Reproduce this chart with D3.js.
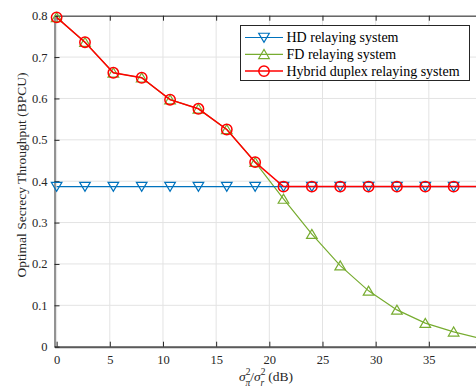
<!DOCTYPE html>
<html><head><meta charset="utf-8">
<script src="https://cdn.jsdelivr.net/npm/d3@7"></script>
<style>body{margin:0;background:#fff}svg{display:block}</style>
</head><body>
<svg id="c" width="476" height="392"></svg>
<script>
const xVals = [0, 2.667, 5.333, 8, 10.667, 13.333, 16, 18.667, 21.333, 24, 26.667, 29.333, 32, 34.667, 37.333, 40];
const hdVals = [0.387,0.387,0.387,0.387,0.387,0.387,0.387,0.387,0.387,0.387,0.387,0.387,0.387,0.387,0.387,0.387];
const fdVals = [0.796,0.736,0.662,0.650,0.597,0.575,0.525,0.446,0.357,0.272,0.196,0.135,0.089,0.057,0.036,0.019];
const hybVals = [0.796,0.736,0.662,0.650,0.597,0.575,0.525,0.446,0.387,0.387,0.387,0.387,0.387,0.387,0.387,0.387];
const xTicks = [0,5,10,15,20,25,30,35];
const yTicks = [0,0.1,0.2,0.3,0.4,0.5,0.6,0.7,0.8];
const seriesNames = ["HD relaying system","FD relaying system","Hybrid duplex relaying system"];
const seriesColors = ["#0072BD","#77AC30","#FF0000"];

const svg = d3.select("#c");
const L = 54.5, R = 482, T = 15.7, B = 346.7;
const x = d3.scaleLinear().domain([-0.2, 40]).range([L, R]);
const y = d3.scaleLinear().domain([0, 0.8]).range([B, T]);
const font = "'Liberation Serif','Times New Roman',serif";

// grid
const g = svg.append("g");
g.selectAll(".gx").data(xTicks).enter().append("line")
  .attr("x1", d=>x(d)).attr("x2", d=>x(d)).attr("y1", T).attr("y2", B)
  .attr("stroke", "#e3e3e3").attr("stroke-width", 1);
g.selectAll(".gy").data(yTicks).enter().append("line")
  .attr("x1", L).attr("x2", R).attr("y1", d=>y(d)).attr("y2", d=>y(d))
  .attr("stroke", "#e3e3e3").attr("stroke-width", 1);

// axes
const xAxis = d3.axisBottom(x).tickValues(xTicks).tickFormat(d3.format("d")).tickSizeInner(-5).tickSizeOuter(0).tickPadding(8);
const yAxis = d3.axisLeft(y).tickValues(yTicks).tickFormat(d=> d===0 ? "0" : d3.format(".1f")(d)).tickSizeInner(-5).tickSizeOuter(0).tickPadding(7);
const xa = svg.append("g").attr("transform", `translate(0,${B})`).call(xAxis);
const ya = svg.append("g").attr("transform", `translate(${L},0)`).call(yAxis);
const xTop = svg.append("g").attr("transform", `translate(0,${T})`).call(d3.axisTop(x).tickValues(xTicks).tickFormat("").tickSizeInner(-5).tickSizeOuter(0));
const yRight = svg.append("g").attr("transform", `translate(${R},0)`).call(d3.axisRight(y).tickValues(yTicks).tickFormat("").tickSizeInner(-5).tickSizeOuter(0));
[xa, ya, xTop, yRight].forEach(a => {
  a.select(".domain").attr("stroke", "#262626").attr("stroke-width", 1);
  a.selectAll(".tick line").attr("stroke", "#262626");
  a.selectAll("text").attr("font-family", font).attr("font-size", 12.5).attr("fill", "#262626");
});
xa.select(".domain").attr("stroke", "#5a5a5a").attr("stroke-width", 2);

// series
const clip = svg.append("clipPath").attr("id","clp").append("rect")
  .attr("x", L).attr("y", T-10).attr("width", R-L).attr("height", B-T+12);
const data = [hdVals, fdVals, hybVals];
const line = d3.line().x((d,i)=>x(xVals[i])).y(d=>y(d));
const triDown = s => `M${-s},${-s*0.8}L${s},${-s*0.8}L0,${s*0.9}Z`;
const triUp = s => `M${-s},${s*0.8}L${s},${s*0.8}L0,${-s*0.9}Z`;
function marker(sel, k, cx, cy) {
  if (k === 0) sel.append("path").attr("d", triDown(5.3)).attr("transform", `translate(${cx},${cy})`)
     .attr("fill","none").attr("stroke", seriesColors[0]).attr("stroke-width",1.2);
  else if (k === 1) sel.append("path").attr("d", triUp(5.3)).attr("transform", `translate(${cx},${cy})`)
     .attr("fill","none").attr("stroke", seriesColors[1]).attr("stroke-width",1.2);
  else sel.append("circle").attr("cx", cx).attr("cy", cy).attr("r", 5.2)
     .attr("fill","none").attr("stroke", seriesColors[2]).attr("stroke-width",1.5);
}
const order = [1, 0, 2];
order.forEach(k => {
  const sg = svg.append("g");
  sg.append("path").datum(data[k]).attr("d", line).attr("fill","none")
    .attr("stroke", seriesColors[k]).attr("stroke-width", k===2 ? 1.5 : 1.2)
    .attr("clip-path","url(#clp)");
  data[k].forEach((v,i) => marker(sg, k, x(xVals[i]), y(v)));
});

// legend
const lg = svg.append("g");
lg.append("rect").attr("x", 240.5).attr("y", 25.5).attr("width", 229).attr("height", 55)
  .attr("fill","#fff").attr("stroke","#262626").attr("stroke-width",1);
seriesNames.forEach((n,k) => {
  const yy = 37.5 + k*16.8;
  lg.append("line").attr("x1",245).attr("x2",283).attr("y1",yy).attr("y2",yy)
    .attr("stroke", seriesColors[k]).attr("stroke-width", k===2?1.5:1.2);
  marker(lg, k, 264, yy);
  lg.append("text").attr("x", 286.5).attr("y", yy+4.5).text(n)
    .attr("font-family", font).attr("font-size", 14).attr("fill","#000");
});

// axis labels
svg.append("text").attr("transform", "translate(26,175) rotate(-90)").attr("text-anchor","middle")
  .attr("font-family", font).attr("font-size", 13.5).attr("fill","#262626")
  .text("Optimal Secrecy Throughput (BPCU)");
const xl = svg.append("text").attr("x", 266).attr("y", 381).attr("text-anchor","middle")
  .attr("font-family", font).attr("font-size", 13.5).attr("fill","#262626");
xl.append("tspan").attr("font-style","italic").text("σ");
xl.append("tspan").attr("font-size", 9.5).attr("dy", -6).attr("dx", 0).text("2");
xl.append("tspan").attr("font-size", 9.5).attr("font-style","italic").attr("dy", 11).attr("dx", -5).text("π");
xl.append("tspan").attr("dy", -5).text("/");
xl.append("tspan").attr("font-style","italic").text("σ");
xl.append("tspan").attr("font-size", 9.5).attr("dy", -6).text("2");
xl.append("tspan").attr("font-size", 9.5).attr("font-style","italic").attr("dy", 11).attr("dx", -5).text("r");
xl.append("tspan").attr("dy", -5).attr("dx", 4).text("(dB)");
</script>
</body></html>
